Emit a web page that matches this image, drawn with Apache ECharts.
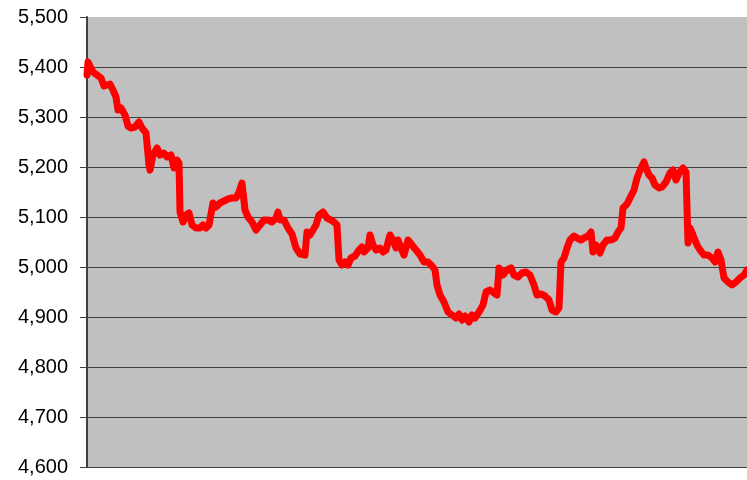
<!DOCTYPE html>
<html>
<head>
<meta charset="utf-8">
<script src="https://cdn.jsdelivr.net/npm/echarts@6/dist/echarts.min.js"></script>
<style>
html,body{margin:0;padding:0;background:#fff;}
#chart{width:747px;height:480px;}
</style>
</head>
<body>
<div id="chart"></div>
<script>
// trading-day index
var days = [0,1,3,6,10,14,17,20,23,26,29,31,34,38,41,44,48,52,55,59,62,63,66,70,73,77,80,84,87,90,92,
93,96,99,102,105,109,113,116,119,122,124,126,129,133,137,141,145,149,152,155,157,158,161,165,169,173,177,181,185,189,
191,193,197,201,205,209,213,218,220,223,226,229,232,236,240,244,247,250,252,255,258,261,264,268,272,275,277,281,283,286,
289,293,296,299,303,306,309,311,314,317,321,325,329,333,337,341,345,348,350,353,357,361,365,369,372,375,378,382,385,388,
392,396,399,403,407,410,412,416,420,424,427,431,435,439,443,447,450,454,458,462,465,469,472,474,477,480,483,487,490,494,
497,501,504,506,509,513,516,520,524,528,531,534,536,540,543,547,550,554,557,559,562,565,568,572,575,579,583,586,589,592,
596,599,601,603,606,610,613,617,621,625,628,631,634,637,641,645,649,653,657,660];
var values = [5384,5410,5408,5390,5384,5378,5362,5364,5366,5354,5340,5314,5318,5304,5282,5278,5280,5290,5278,5268,5204,5194,5224,5238,5224,5228,5220,5224,5198,5214,5208,
5110,5090,5104,5108,5084,5078,5078,5084,5078,5084,5088,5128,5120,5128,5132,5136,5138,5138,5150,5168,5164,5114,5100,5090,5074,5084,5094,5094,5090,5098,
5110,5094,5094,5078,5066,5038,5026,5024,5070,5064,5074,5084,5104,5110,5098,5094,5090,5084,5014,5004,5010,5004,5018,5022,5034,5040,5030,5038,5064,5044,
5034,5038,5030,5034,5064,5054,5038,5054,5038,5024,5054,5044,5034,5024,5010,5010,5002,4994,4964,4944,4930,4910,4904,4898,4906,4894,4902,4890,4904,4898,
4910,4924,4950,4954,4948,4944,4998,4984,4994,4998,4984,4980,4988,4990,4984,4964,4944,4946,4942,4934,4914,4910,4918,5010,5018,5038,5054,5062,5058,5054,
5058,5062,5070,5030,5044,5028,5044,5054,5054,5058,5070,5078,5118,5126,5138,5154,5178,5198,5210,5198,5184,5178,5164,5158,5160,5170,5188,5194,5174,5188,
5198,5190,5048,5078,5064,5044,5034,5024,5024,5018,5010,5030,5014,4978,4970,4964,4970,4978,4984,4994];
var yTicks = [4600,4700,4800,4900,5000,5100,5200,5300,5400,5500];

var data = days.map(function(d,i){return [d, values[i]];});
var gridColors = yTicks.map(function(t,i){return i === yTicks.length-1 ? 'rgba(0,0,0,0)' : '#404040';});

var chart = echarts.init(document.getElementById('chart'), null, {renderer:'canvas'});
chart.setOption({
  animation:false,
  backgroundColor:'#ffffff',
  grid:{left:87,top:17,right:0,bottom:13,show:true,backgroundColor:'#c0c0c0',borderWidth:0},
  xAxis:{type:'value',min:0,max:660,
    axisLine:{show:true,onZero:false,lineStyle:{color:'#404040',width:1}},
    axisTick:{show:false},axisLabel:{show:false},splitLine:{show:false}},
  yAxis:{type:'value',min:yTicks[0],max:yTicks[yTicks.length-1],interval:100,
    axisLine:{show:true,lineStyle:{color:'#404040',width:2}},
    axisTick:{show:true,length:7,lineStyle:{color:'#404040',width:1}},
    axisLabel:{margin:19,color:'#000',fontFamily:'"Liberation Sans", Arial, sans-serif',fontSize:20,
      formatter:function(v){return v.toLocaleString('en-US');}},
    splitLine:{show:true,lineStyle:{color:gridColors,width:1}}},
  series:[{type:'line',data:data,showSymbol:false,symbol:'none',
    lineStyle:{color:'#ff0000',width:7,cap:'round',join:'round'},clip:true}]
});
</script>
</body>
</html>
